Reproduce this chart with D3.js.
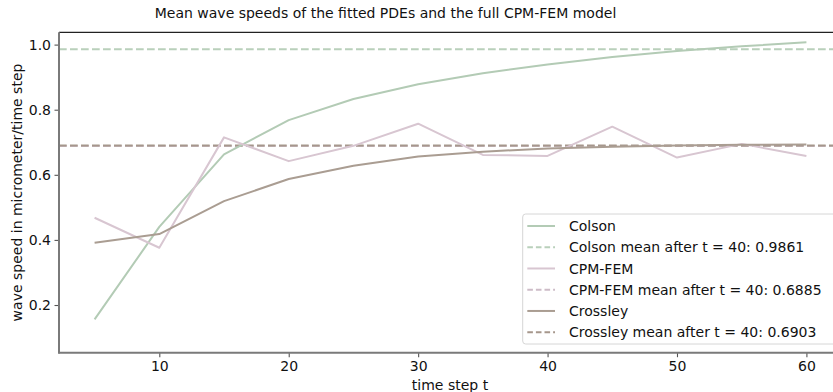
<!DOCTYPE html>
<html>
<head>
<meta charset="utf-8">
<script src="https://cdn.jsdelivr.net/npm/d3@7"></script>
<style>
  html, body { margin: 0; padding: 0; background: #fff; overflow: hidden; }
  svg { display: block; font-family: "DejaVu Sans", sans-serif; }
</style>
</head>
<body>
<svg id="chart" width="833" height="392"></svg>
<script>
// Time steps at which the wave speed was measured
const timeSteps = [5, 10, 15, 20, 25, 30, 35, 40, 45, 50, 55, 60];

// Mean wave speed per model (micrometer / time step)
const colson   = [0.156, 0.440, 0.663, 0.768, 0.833, 0.878, 0.912, 0.939, 0.962, 0.980, 0.995, 1.007];
const cpmFem   = [0.468, 0.376, 0.715, 0.642, 0.689, 0.757, 0.661, 0.658, 0.748, 0.653, 0.695, 0.658];
const crossley = [0.391, 0.418, 0.519, 0.587, 0.628, 0.656, 0.671, 0.681, 0.686, 0.690, 0.692, 0.693];

// Means over the late phase of the run
const meanLabels = ["Colson", "CPM-FEM", "Crossley"];
const meanValues = [0.9861, 0.6885, 0.6903];

const xTicks = [10, 20, 30, 40, 50, 60];
const yTicks = [0.2, 0.4, 0.6, 0.8, 1.0];

const colors = {
  "Colson":   "#b3cbb5",
  "CPM-FEM":  "#d8c6d1",
  "Crossley": "#aa9d92"
};
const meanColors = {
  "Colson":   "#b9d0bb",
  "CPM-FEM":  "#cdbcc7",
  "Crossley": "#a6978c"
};

const series = [
  { name: "Colson", values: colson },
  { name: "CPM-FEM", values: cpmFem },
  { name: "Crossley", values: crossley }
];

const svg = d3.select("#chart");
const plotLeft = 59, plotRight = 842, plotTop = 32.3, plotBottom = 352.7;

const x = d3.scaleLinear().domain([2.25, 62.75]).range([plotLeft, plotRight]);
const y = d3.scaleLinear().domain([0.0535, 1.0378]).range([plotBottom, plotTop]);

const dash = "7.7,3.3";

// Mean reference lines
meanLabels.forEach((name, i) => {
  svg.append("line")
    .attr("x1", plotLeft).attr("x2", plotRight)
    .attr("y1", y(meanValues[i])).attr("y2", y(meanValues[i]))
    .attr("stroke", meanColors[name])
    .attr("stroke-width", 2)
    .attr("stroke-dasharray", dash);
});

// Speed curves
const line = d3.line()
  .x((d, i) => x(timeSteps[i]))
  .y(d => y(d));

series.forEach(s => {
  svg.append("path")
    .datum(s.values)
    .attr("d", line)
    .attr("fill", "none")
    .attr("stroke", colors[s.name])
    .attr("stroke-width", 2)
    .attr("stroke-linejoin", "round");
});

// Axes
const xAxis = d3.axisBottom(x).tickValues(xTicks).tickSize(4.5).tickPadding(3.5).tickFormat(d3.format("d"));
const yAxis = d3.axisLeft(y).tickValues(yTicks).tickSize(4.5).tickPadding(3.5).tickFormat(d3.format(".1f"));

const gx = svg.append("g").attr("transform", `translate(0,${plotBottom})`).call(xAxis);
const gy = svg.append("g").attr("transform", `translate(${plotLeft},0)`).call(yAxis);

[gx, gy].forEach(g => {
  g.select(".domain").remove();
  g.selectAll(".tick line").attr("stroke", "#555").attr("stroke-width", 1.1);
  g.selectAll(".tick text")
    .attr("fill", "#111")
    .style("font-size", "14px")
    .style("font-family", "DejaVu Sans, sans-serif");
});

// Spines
svg.append("line").attr("x1", plotLeft).attr("x2", plotRight).attr("y1", plotTop).attr("y2", plotTop)
  .attr("stroke", "#222").attr("stroke-width", 1.2);
svg.append("line").attr("x1", plotLeft).attr("x2", plotLeft).attr("y1", plotTop).attr("y2", plotBottom + 0.8)
  .attr("stroke", "#7a7a7a").attr("stroke-width", 2);
svg.append("line").attr("x1", plotLeft - 0.8).attr("x2", plotRight).attr("y1", plotBottom).attr("y2", plotBottom)
  .attr("stroke", "#7a7a7a").attr("stroke-width", 2);

// Titles
svg.append("text")
  .attr("x", 385.5).attr("y", 18)
  .attr("text-anchor", "middle")
  .attr("fill", "#111")
  .style("font-size", "14px")
  .text("Mean wave speeds of the fitted PDEs and the full CPM-FEM model");

svg.append("text")
  .attr("x", 450).attr("y", 390)
  .attr("text-anchor", "middle")
  .attr("fill", "#111")
  .style("font-size", "14px")
  .text("time step t");

svg.append("text")
  .attr("transform", `translate(22,${(plotTop + plotBottom) / 2}) rotate(-90)`)
  .attr("text-anchor", "middle")
  .attr("fill", "#111")
  .style("font-size", "14px")
  .text("wave speed in micrometer/time step");

// Legend
const legendItems = [];
meanLabels.forEach((name, i) => {
  legendItems.push({ label: name, color: colors[name], dashed: false });
  legendItems.push({ label: `${name} mean after t = 40: ${meanValues[i].toFixed(4)}`, color: meanColors[name], dashed: true });
});

const lg = svg.append("g");
lg.append("rect")
  .attr("x", 522.7).attr("y", 214)
  .attr("width", 330).attr("height", 130)
  .attr("rx", 3)
  .attr("fill", "#fff").attr("fill-opacity", 0.85)
  .attr("stroke", "#d6d6d6").attr("stroke-width", 1);

const rowY = d3.scaleLinear().domain([0, 5]).range([226, 332.2]);
legendItems.forEach((item, i) => {
  const yy = rowY(i);
  lg.append("line")
    .attr("x1", 527.3).attr("x2", 555)
    .attr("y1", yy).attr("y2", yy)
    .attr("stroke", item.color)
    .attr("stroke-width", 2)
    .attr("stroke-dasharray", item.dashed ? "5.6,3" : null);
  lg.append("text")
    .attr("x", 569).attr("y", yy)
    .attr("dy", "0.36em")
    .attr("fill", "#111")
    .style("font-size", "14px")
    .text(item.label);
});
</script>
</body>
</html>
